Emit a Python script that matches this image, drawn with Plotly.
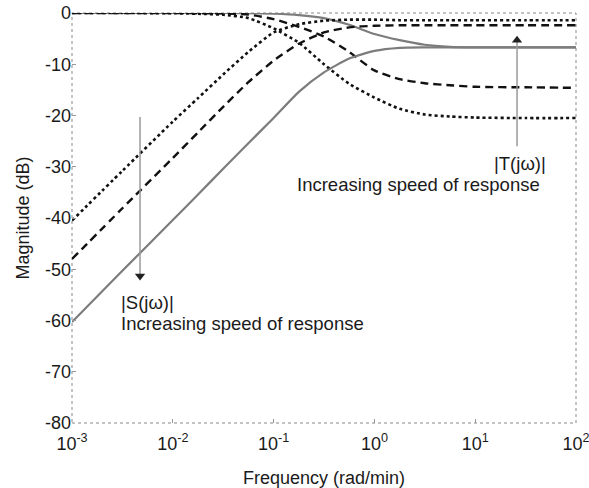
import plotly.graph_objects as go

# Frequency grid (rad/min)
freq = [0.001, 0.00316, 0.01, 0.0178, 0.0316, 0.0562, 0.1, 0.178, 0.316,
        0.562, 1.0, 1.78, 3.16, 5.62, 10.0, 31.6, 100.0]

# |S(jw)| in dB (slow=solid, medium=dashed, fast=dotted)
s_slow = [-60.3, -50.3, -40.4, -35.4, -30.4, -25.4, -20.5, -15.4, -11.6,
          -8.9, -7.4, -6.8, -6.7, -6.7, -6.7, -6.7, -6.7]
s_mid = [-48.0, -38.1, -28.3, -23.3, -18.3, -13.5, -9.3, -6.0, -3.8,
         -2.8, -2.5, -2.4, -2.4, -2.4, -2.4, -2.4, -2.4]
s_fast = [-40.5, -30.8, -21.2, -16.6, -12.0, -7.6, -3.8, -2.2, -1.5,
          -1.3, -1.3, -1.4, -1.4, -1.4, -1.4, -1.4, -1.4]

# |T(jw)| in dB
t_slow = [0.0, 0.0, 0.0, 0.0, 0.0, -0.05, -0.15, -0.4, -1.0,
          -2.3, -4.1, -5.3, -6.2, -6.6, -6.7, -6.7, -6.7]
t_mid = [0.0, 0.0, 0.0, -0.05, -0.1, -0.3, -1.2, -2.7, -4.6,
         -7.6, -11.2, -12.9, -13.7, -14.1, -14.4, -14.5, -14.6]
t_fast = [0.0, 0.0, -0.05, -0.15, -0.35, -1.0, -3.0, -5.8, -10.0,
          -13.8, -16.5, -18.7, -19.8, -20.2, -20.4, -20.5, -20.5]

x_ticks = [0.001, 0.01, 0.1, 1, 10, 100]
x_tick_text = ["10<sup>-3</sup>", "10<sup>-2</sup>", "10<sup>-1</sup>",
               "10<sup>0</sup>", "10<sup>1</sup>", "10<sup>2</sup>"]
y_ticks = [0, -10, -20, -30, -40, -50, -60, -70, -80]
y_tick_text = ["0", "-10", "-20", "-30", "-40", "-50", "-60", "-70", "-80"]

FONT = "Liberation Sans, Arial, sans-serif"
GRAY = "#7c7c7c"
TXT = "#1a1a1a"

styles = {
    "solid": dict(color=GRAY, width=2.2),
    "dash": dict(color="#111111", width=2.4, dash="8px,5px"),
    "dot": dict(color="#111111", width=2.6, dash="dot"),
}

fig = go.Figure()
series = [
    (t_slow, "solid"), (t_mid, "dash"), (t_fast, "dot"),
    (s_slow, "solid"), (s_mid, "dash"), (s_fast, "dot"),
]
for vals, st in series:
    fig.add_trace(go.Scatter(x=freq, y=vals, mode="lines",
                             line=dict(shape="spline", smoothing=0.6, **styles[st]),
                             hoverinfo="skip", showlegend=False))

# Arrows: gray shaft + black triangular head
s_arrow_f = 0.00473
t_arrow_f = 26.0
fig.add_trace(go.Scatter(x=[s_arrow_f, s_arrow_f], y=[-20.3, -51.0], mode="lines",
                         line=dict(color="#9a9a9a", width=1.5),
                         hoverinfo="skip", showlegend=False))
fig.add_trace(go.Scatter(x=[s_arrow_f], y=[-51.3], mode="markers",
                         marker=dict(symbol="triangle-down", size=9, color="#222"),
                         hoverinfo="skip", showlegend=False))
fig.add_trace(go.Scatter(x=[t_arrow_f, t_arrow_f], y=[-26.0, -5.5], mode="lines",
                         line=dict(color="#9a9a9a", width=1.5),
                         hoverinfo="skip", showlegend=False))
fig.add_trace(go.Scatter(x=[t_arrow_f], y=[-5.3], mode="markers",
                         marker=dict(symbol="triangle-up", size=9, color="#222"),
                         hoverinfo="skip", showlegend=False))

fig.update_xaxes(type="log", range=[-3, 2], automargin=False,
                 tickvals=x_ticks, ticktext=x_tick_text,
                 showgrid=False, zeroline=False, showline=False,
                 ticks="inside", ticklen=4, tickcolor="#999",
                 ticklabelstandoff=8, ticklabeloverflow="allow",
                 tickfont=dict(family=FONT, size=18, color=TXT),
                 title=dict(text="Frequency (rad/min)", standoff=18,
                            font=dict(family=FONT, size=18, color=TXT)))
fig.update_yaxes(range=[-80, 0], automargin=False,
                 tickvals=y_ticks, ticktext=y_tick_text,
                 showgrid=False, zeroline=False, showline=False,
                 ticks="inside", ticklen=4, tickcolor="#999",
                 tickfont=dict(family=FONT, size=18, color=TXT),
                 title=dict(text="Magnitude (dB)", standoff=10,
                            font=dict(family=FONT, size=18, color=TXT)))

# dotted frame
fig.add_shape(type="rect", xref="paper", yref="paper", x0=0, y0=0, x1=1, y1=1,
              line=dict(color="#888", width=1, dash="dot"), layer="below")

tf = dict(family=FONT, size=18.5, color=TXT)
fig.add_annotation(x=-2.53, y=-56.4, xref="x", yref="y", text="|S(jω)|",
                   showarrow=False, xanchor="left", yanchor="middle", font=tf)
fig.add_annotation(x=-2.53, y=-60.6, xref="x", yref="y",
                   text="Increasing speed of response",
                   showarrow=False, xanchor="left", yanchor="middle", font=tf)
fig.add_annotation(x=1.72, y=-29.4, xref="x", yref="y", text="|T(jω)|",
                   showarrow=False, xanchor="right", yanchor="middle", font=tf)
fig.add_annotation(x=1.665, y=-33.4, xref="x", yref="y",
                   text="Increasing speed of response",
                   showarrow=False, xanchor="right", yanchor="middle", font=tf)

fig.update_layout(width=589, height=488, plot_bgcolor="white",
                  paper_bgcolor="white",
                  margin=dict(l=72, r=13, t=13, b=65),
                  font=dict(family=FONT, size=18, color=TXT))

fig.write_html("out.html")
